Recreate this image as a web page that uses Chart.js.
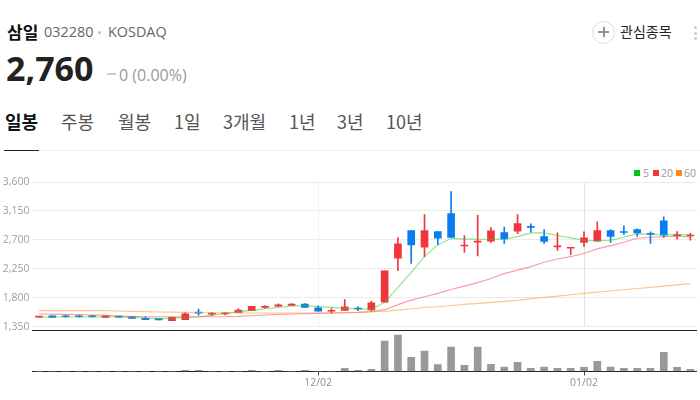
<!DOCTYPE html>
<html>
<head>
<meta charset="utf-8">
<script src="https://cdn.jsdelivr.net/npm/chart.js@4/dist/chart.umd.min.js"></script>
<style>
  html, body { margin: 0; padding: 0; background: #fff; width: 700px; height: 400px; overflow: hidden; }
  body { font-family: "Open Sans", "Noto Sans CJK KR", sans-serif; position: relative; }
  .abs { position: absolute; white-space: nowrap; }
  canvas { position: absolute; left: 0; }
  .ko { font-family: "Noto Sans CJK KR", sans-serif; }
  #tabs span { position: absolute; top: 0; font-size: 18px; color: #555; font-family: "Noto Sans CJK KR", sans-serif; line-height: 24px; white-space: nowrap; }
  .sw { position: absolute; top: 170px; width: 6px; height: 6px; }
  .lg { position: absolute; top: 167px; font-size: 10.5px; color: #999; line-height: 12px; }
</style>
</head>
<body>
<div class="abs ko" style="left:7px;top:20px;font-size:17px;font-weight:700;color:#111;line-height:24px">삼일</div>
<div class="abs" style="left:44px;top:22px;font-size:14.4px;color:#666;line-height:20px">032280</div>
<div class="abs" style="left:98px;top:31px;width:3px;height:3px;border-radius:2px;background:#bbb"></div>
<div class="abs" style="left:108px;top:22px;font-size:14.4px;color:#666;line-height:20px">KOSDAQ</div>
<div class="abs" style="left:6px;top:44px;font-size:34px;font-weight:700;color:#222;line-height:48px">2,760</div>
<div class="abs" style="left:107px;top:73px;width:9px;height:2px;background:#ccc"></div>
<div class="abs" style="left:119px;top:63px;font-size:16px;color:#999;line-height:24px">0 (0.00%)</div>

<div class="abs" style="left:592px;top:21px;width:21px;height:21px;border:1px solid #ddd;border-radius:50%"></div>
<div class="abs" style="left:598px;top:31px;width:11px;height:2px;background:#8b93a0"></div>
<div class="abs" style="left:603px;top:27px;width:2px;height:10px;background:#8b93a0"></div>
<div class="abs ko" style="left:620px;top:21px;font-size:14px;color:#222;line-height:20px">관심종목</div>
<div class="abs" style="left:694px;top:26px;width:3px;height:3px;border-radius:2px;background:#ccc"></div>
<div class="abs" style="left:694px;top:32px;width:3px;height:3px;border-radius:2px;background:#ccc"></div>
<div class="abs" style="left:694px;top:37px;width:3px;height:3px;border-radius:2px;background:#ccc"></div>

<div id="tabs" class="abs" style="left:0;top:109px;width:700px;height:26px">
  <span style="left:5px;color:#111;font-weight:700">일봉</span>
  <span style="left:61px">주봉</span>
  <span style="left:118px">월봉</span>
  <span style="left:174px">1일</span>
  <span style="left:223px">3개월</span>
  <span style="left:289px">1년</span>
  <span style="left:337px">3년</span>
  <span style="left:386px">10년</span>
</div>
<div class="abs" style="left:4px;top:150px;width:696px;height:1px;background:#eee"></div>
<div class="abs" style="left:4px;top:150px;width:35px;height:1px;background:#222"></div>

<div class="sw" style="left:634px;background:#00c01a"></div><div class="lg" style="left:643px">5</div>
<div class="sw" style="left:653px;background:#f7323d"></div><div class="lg" style="left:661px">20</div>
<div class="sw" style="left:676px;background:#ff8a14"></div><div class="lg" style="left:684px">60</div>

<canvas id="priceChart" width="700" height="166" style="top:170px"></canvas>
<canvas id="volumeChart" width="700" height="74" style="top:326px"></canvas>

<script>
const dates = [
  '11/01','11/04','11/05','11/06','11/07','11/08','11/11','11/12','11/13','11/14',
  '11/15','11/18','11/19','11/20','11/21','11/22','11/25','11/26','11/27','11/28',
  '11/29','12/02','12/03','12/04','12/05','12/06','12/09','12/10','12/11','12/12',
  '12/13','12/16','12/17','12/18','12/19','12/20','12/23','12/24','12/26','12/27',
  '12/30','01/02','01/03','01/06','01/07','01/08','01/09','01/10','01/13','01/14'
];
const shownDates = ['12/02', '01/02'];
const priceTicks = [1350, 1800, 2250, 2700, 3150, 3600];

const opens = [
  1500,1520,1520,1520,1520,1495,1510,1505,1480,1475,
  1445,1460,1565,1545,1550,1570,1600,1650,1670,1680,
  1700,1645,1590,1605,1630,1610,1730,2415,2845,2585,
  2830,3110,2605,2665,2680,2815,2835,2900,2750,2590,
  2570,2660,2680,2845,2820,2860,2790,2995,2765,2760
];
const closes = [
  1500,1495,1505,1505,1505,1520,1500,1480,1460,1455,
  1495,1550,1560,1550,1565,1610,1665,1665,1690,1700,
  1650,1590,1595,1660,1625,1720,2220,2640,2620,2845,
  2725,2740,2610,2670,2840,2715,2955,2895,2675,2595,
  2570,2730,2845,2755,2815,2810,2785,2775,2770,2760
];
const highs = [
  1505,1520,1525,1525,1525,1520,1510,1505,1505,1475,
  1495,1568,1625,1570,1575,1630,1665,1680,1705,1710,
  1710,1675,1630,1770,1660,1745,2220,2735,2845,3095,
  2830,3450,2765,3080,2890,2900,3095,2950,2860,2810,
  2570,2825,2980,2860,2920,2870,2825,3060,2830,2800
];
const lows = [
  1495,1495,1500,1500,1500,1495,1500,1480,1460,1455,
  1445,1460,1530,1520,1535,1570,1600,1640,1660,1680,
  1650,1590,1555,1605,1600,1590,1730,2220,2335,2440,
  2625,2740,2505,2450,2660,2645,2795,2820,2645,2535,
  2470,2600,2680,2660,2785,2755,2645,2740,2710,2695
];
const ma5 = [
  1500,1501,1501,1501,1501,1500,1500,1495,1485,1475,
  1480,1495,1500,1530,1557,1584,1604,1630,1650,1672,
  1677,1666,1650,1635,1626,1620,1728,1962,2195,2440,
  2622,2720,2715,2709,2709,2709,2751,2809,2809,2767,
  2731,2694,2689,2694,2740,2793,2787,2782,2778,2778
];
const ma20 = [
  1548,1545,1541,1537,1532,1526,1517,1510,1505,1505,
  1505,1505,1505,1505,1505,1510,1521,1532,1541,1548,
  1552,1557,1563,1568,1573,1584,1615,1693,1763,1817,
  1868,1929,1981,2035,2100,2175,2230,2284,2351,2404,
  2440,2487,2560,2611,2663,2725,2740,2751,2756,2747
];
const ma60 = [
  1600,1600,1600,1600,1600,1600,1594,1588,1584,1579,
  1576,1573,1571,1568,1568,1565,1563,1563,1563,1563,
  1563,1563,1563,1568,1573,1584,1588,1607,1630,1649,
  1661,1680,1697,1713,1728,1744,1759,1786,1806,1826,
  1848,1868,1887,1906,1925,1943,1962,1981,2000,2020
];
const volumes = [
  0,0,0,0,0,0,0,0,0,0,
  0,10,10,0,0,0,10,0,10,0,
  10,0,0,30,10,20,300,360,140,200,
  67,240,60,240,70,43,90,30,43,30,
  30,40,100,43,30,30,30,190,40,20
];

const UP = '#f1353c';
const DOWN = '#0a7cf0';
const candleColors = closes.map((c, i) => c < opens[i] ? DOWN : UP);

const AXIS_W = 32.4;
const fixWidth = scale => { scale.width = AXIS_W; };
const isShown = i => shownDates.includes(dates[i]);

new Chart(document.getElementById('priceChart'), {
  type: 'bar',
  data: {
    labels: dates,
    datasets: [
      { type: 'line', data: ma60, borderColor: 'rgba(255,150,50,0.55)', borderWidth: 1.1, pointRadius: 0, order: 1 },
      { type: 'line', data: ma20, borderColor: 'rgba(247,60,70,0.5)', borderWidth: 1.1, pointRadius: 0, order: 2 },
      { type: 'line', data: ma5, borderColor: 'rgba(50,200,60,0.55)', borderWidth: 1.1, pointRadius: 0, order: 3 },
      { data: opens.map((o, i) => [o, closes[i]]), backgroundColor: candleColors, barThickness: 7, minBarLength: 1, grouped: false, order: 4 },
      { data: lows.map((l, i) => [l, highs[i]]), backgroundColor: candleColors, barThickness: 1, grouped: false, order: 5 }
    ]
  },
  options: {
    responsive: false,
    animation: false,
    layout: { padding: { top: 12, right: 3, bottom: 2, left: 0 } },
    plugins: { legend: { display: false }, tooltip: { enabled: false } },
    scales: {
      x: {
        offset: true,
        border: { display: false },
        ticks: { display: false, autoSkip: false },
        grid: {
          offset: false,
          drawTicks: false,
          color: c => dates[c.index] === '01/02' ? '#e0e0e8' : (isShown(c.index) ? '#efefef' : 'transparent')
        }
      },
      y: {
        min: priceTicks[0],
        max: priceTicks[priceTicks.length - 1],
        afterFit: fixWidth,
        afterBuildTicks: scale => { scale.ticks = priceTicks.map(v => ({ value: v })); },
        border: { display: false },
        grid: { color: '#ebebeb', drawTicks: false },
        ticks: {
          padding: 3,
          color: '#9aa0aa',
          font: { family: '"Open Sans"', size: 10.5 },
          callback: v => v.toLocaleString('en-US')
        }
      }
    }
  }
});

new Chart(document.getElementById('volumeChart'), {
  type: 'bar',
  data: {
    labels: dates,
    datasets: [{ data: volumes, backgroundColor: '#999999', barThickness: 7 }]
  },
  options: {
    responsive: false,
    animation: false,
    layout: { padding: { top: 4.5, right: 3, bottom: 10, left: 0 } },
    plugins: { legend: { display: false }, tooltip: { enabled: false } },
    scales: {
      x: {
        offset: true,
        border: { display: false },
        grid: {
          offset: false,
          drawOnChartArea: false,
          tickLength: 4,
          tickColor: c => isShown(c.index) ? '#444' : 'transparent'
        },
        ticks: {
          autoSkip: false,
          maxRotation: 0,
          padding: 1,
          color: '#8a909b',
          font: { family: '"Open Sans"', size: 10.5 },
          callback: function (v, i) { return isShown(i) ? dates[i] : ''; }
        }
      },
      y: {
        min: 0,
        max: 405,
        afterFit: fixWidth,
        afterBuildTicks: scale => { scale.ticks = [{ value: 0 }, { value: 405 }]; },
        border: { display: false },
        grid: { color: '#222', drawTicks: false },
        ticks: { display: false }
      }
    }
  }
});
</script>
</body>
</html>
